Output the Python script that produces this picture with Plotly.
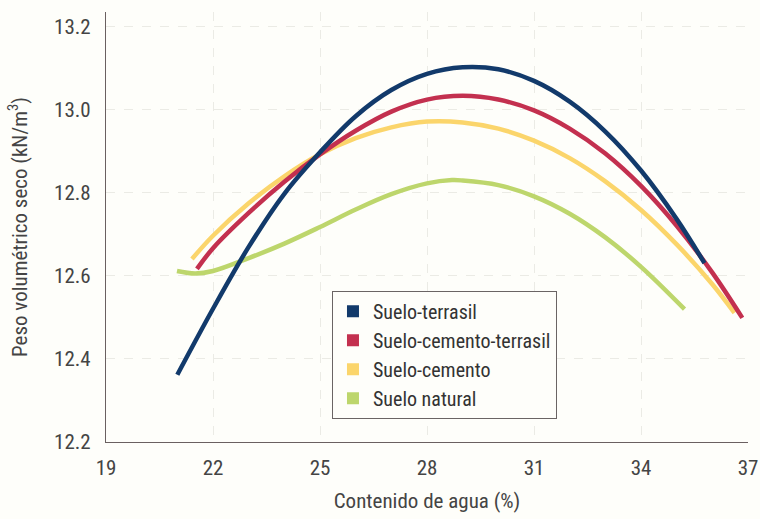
import plotly.graph_objects as go

# ---- data ----
series_names = ["Suelo-terrasil", "Suelo-cemento-terrasil", "Suelo-cemento", "Suelo natural"]

terrasil_x = [21.0, 22, 23, 24, 25, 26, 27, 28, 29, 30, 31, 32, 33, 34, 35, 35.78]
terrasil_y = [12.362, 12.521, 12.670, 12.798, 12.898, 12.985, 13.048, 13.087, 13.103, 13.098,
              13.070, 13.020, 12.948, 12.854, 12.737, 12.631]

cem_terrasil_x = [21.55, 22, 23, 24, 25, 26, 27, 28, 29, 30, 31, 32, 33, 34, 35, 36, 36.84]
cem_terrasil_y = [12.617, 12.667, 12.752, 12.827, 12.893, 12.950, 12.996, 13.025, 13.034, 13.025,
                  12.999, 12.955, 12.895, 12.817, 12.721, 12.608, 12.499]

cemento_x = [21.41, 22, 23, 24, 25, 26, 27, 28, 29, 30, 31, 32, 33, 34, 35, 36, 36.62]
cemento_y = [12.641, 12.697, 12.775, 12.840, 12.893, 12.932, 12.958, 12.972, 12.970, 12.955,
             12.926, 12.884, 12.828, 12.759, 12.676, 12.580, 12.511]

natural_x = [20.99, 21.5, 22, 23, 24, 25, 26, 27, 28, 28.7, 29, 30, 31, 32, 33, 34, 35.22]
natural_y = [12.612, 12.606, 12.612, 12.643, 12.678, 12.718, 12.760, 12.797, 12.823, 12.831, 12.830,
             12.819, 12.792, 12.750, 12.693, 12.622, 12.520]

x_ticks = [19, 22, 25, 28, 31, 34, 37]
y_ticks = [12.2, 12.4, 12.6, 12.8, 13.0, 13.2]

colors = ["#123a6b", "#c3304f", "#fbd56b", "#bdd66c"]

xs = [terrasil_x, cem_terrasil_x, cemento_x, natural_x]
ys = [terrasil_y, cem_terrasil_y, cemento_y, natural_y]

FONT = "Liberation Sans Narrow, Roboto Condensed, Arial Narrow, Roboto, sans-serif"

fig = go.Figure()
# draw order: green first, blue last on top
for i in [3, 2, 1, 0]:
    fig.add_trace(go.Scatter(
        x=xs[i], y=ys[i], mode="lines", name=series_names[i],
        line=dict(color=colors[i], width=4.5, shape="spline", smoothing=1.0),
        showlegend=False, hoverinfo="skip"))

# legend proxies (filled rectangles)
for i in range(4):
    fig.add_trace(go.Bar(x=[None], y=[None], name=series_names[i],
                         marker=dict(color=colors[i], line=dict(width=0)),
                         showlegend=True))

fig.update_layout(
    width=760, height=519,
    margin=dict(l=106, r=12, t=12, b=77),
    paper_bgcolor="#fefefa",
    plot_bgcolor="#fefefa",
    font=dict(family=FONT, size=21, color="#444444"),
    legend=dict(
        x=0.352, y=0.352, xanchor="left", yanchor="top",
        bgcolor="#fefefa", bordercolor="#6a6464", borderwidth=1,
        font=dict(family=FONT, size=20, color="#333333"),
        traceorder="normal", itemwidth=30,
        tracegroupgap=0,
    ),
    showlegend=True,
)

fig.update_xaxes(
    range=[19, 37], tickvals=x_ticks, ticktext=[str(v) for v in x_ticks],
    showline=True, linecolor="#6a6060", linewidth=1.2,
    showgrid=True, gridcolor="#ebebe5", griddash="dash", gridwidth=1,
    zeroline=False, ticks="", ticklabelstandoff=7, automargin=False,
    title=dict(text="Contenido de agua (%)", font=dict(family=FONT, size=21, color="#444444"), standoff=14),
)
fig.update_yaxes(
    range=[12.2, 13.236], tickvals=y_ticks, tickformat=".1f",
    showline=True, linecolor="#6a6060", linewidth=1.2,
    showgrid=True, gridcolor="#ebebe5", griddash="dash", gridwidth=1,
    zeroline=False, ticks="", ticklabelstandoff=10, automargin=False,
    title=dict(text="Peso volumétrico seco (kN/m<sup>3</sup>)", font=dict(family=FONT, size=21, color="#444444"), standoff=20),
)

fig.write_html(
    "out.html",
    config={"displayModeBar": False},
    post_script="document.body.style.margin='0';document.body.style.overflow='hidden';",
)
